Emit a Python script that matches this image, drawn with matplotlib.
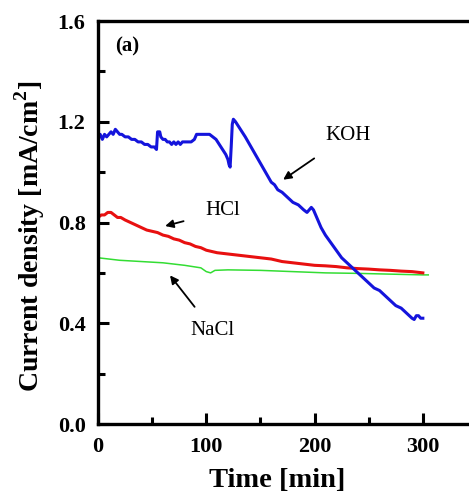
import numpy as np
import matplotlib.pyplot as plt
from matplotlib.ticker import MultipleLocator

plt.rcParams['font.family'] = 'Liberation Serif'
plt.rcParams['mathtext.fontset'] = 'custom'
plt.rcParams['mathtext.rm'] = 'Liberation Serif'
plt.rcParams['mathtext.bf'] = 'Liberation Serif:bold'

# KOH electrolyte
koh_t = [0, 2, 4, 6, 8, 10, 12, 14, 16, 18, 20, 22, 25, 28, 31, 34, 37, 40, 43, 46,
         49, 52, 54, 55, 57, 58, 60, 62, 64, 66, 68, 70, 72, 74, 76, 78, 80, 83, 86, 89,
         91, 94, 97, 100, 103, 106, 109, 112, 115, 118, 120, 121, 122, 123, 124, 125, 127,
         130, 133, 136, 140, 144, 148, 152, 156, 160, 163, 166, 170, 175, 180, 185, 190,
         193, 195, 197, 199, 202, 206, 210, 215, 220, 225, 230, 235, 240, 245, 250, 255,
         260, 265, 270, 275, 280, 285, 290, 292, 294, 296, 298, 300]
koh_j = [1.14, 1.15, 1.13, 1.15, 1.14, 1.15, 1.16, 1.15, 1.17, 1.16, 1.15, 1.15, 1.14,
         1.14, 1.13, 1.13, 1.12, 1.12, 1.11, 1.11, 1.10, 1.10, 1.09, 1.16, 1.16, 1.14,
         1.13, 1.13, 1.12, 1.12, 1.11, 1.12, 1.11, 1.12, 1.11, 1.12, 1.12, 1.12, 1.12,
         1.13, 1.15, 1.15, 1.15, 1.15, 1.15, 1.14, 1.13, 1.11, 1.09, 1.07, 1.05, 1.03,
         1.02, 1.10, 1.19, 1.21, 1.20, 1.18, 1.16, 1.14, 1.11, 1.08, 1.05, 1.02, 0.99,
         0.96, 0.95, 0.93, 0.92, 0.90, 0.88, 0.87, 0.85, 0.84, 0.85, 0.86, 0.85, 0.82,
         0.78, 0.75, 0.72, 0.69, 0.66, 0.64, 0.62, 0.60, 0.58, 0.56, 0.54, 0.53, 0.51,
         0.49, 0.47, 0.46, 0.44, 0.42, 0.415, 0.43, 0.43, 0.42, 0.42]

# HCl electrolyte
hcl_t = [0, 3, 6, 9, 12, 15, 18, 21, 25, 30, 35, 40, 45, 50, 55, 60, 65, 70, 75, 80,
         85, 90, 95, 100, 105, 110, 120, 130, 140, 150, 160, 170, 180, 190, 200, 210,
         220, 230, 240, 250, 260, 270, 280, 290, 300]
hcl_j = [0.82, 0.83, 0.83, 0.84, 0.84, 0.83, 0.82, 0.82, 0.81, 0.80, 0.79, 0.78, 0.77,
         0.765, 0.76, 0.75, 0.745, 0.735, 0.73, 0.72, 0.715, 0.705, 0.70, 0.69, 0.685,
         0.68, 0.675, 0.67, 0.665, 0.66, 0.655, 0.645, 0.64, 0.635, 0.63, 0.628, 0.625,
         0.62, 0.617, 0.615, 0.612, 0.61, 0.607, 0.605, 0.60]

# NaCl electrolyte
nacl_t = [0, 20, 40, 60, 80, 95, 100, 104, 108, 120, 150, 180, 210, 240, 270, 300, 305]
nacl_j = [0.66, 0.65, 0.645, 0.64, 0.63, 0.62, 0.605, 0.60, 0.61, 0.612, 0.61, 0.605,
          0.60, 0.598, 0.595, 0.592, 0.592]

fig = plt.figure(figsize=(4.69, 4.99), dpi=100)
ax = fig.add_axes([0.209, 0.1503, 0.808, 0.8076])

ax.plot(nacl_t, nacl_j, color='#33dd33', lw=1.1)
ax.plot(hcl_t, hcl_j, color='#e81010', lw=2.2)
ax.plot(koh_t, koh_j, color='#1414dc', lw=2.2)

ax.set_xlim(0, 350)
ax.set_ylim(0.0, 1.6)
ax.xaxis.set_major_locator(MultipleLocator(100))
ax.xaxis.set_minor_locator(MultipleLocator(50))
ax.yaxis.set_major_locator(MultipleLocator(0.4))
ax.yaxis.set_minor_locator(MultipleLocator(0.2))
ax.tick_params(which='both', direction='in', width=2.2, labelsize=16, pad=9)
ax.tick_params(which='major', length=8)
ax.tick_params(which='minor', length=5)
ax.set_yticks([0.0, 0.4, 0.8, 1.2, 1.6])
ax.set_yticklabels(['0.0', '0.4', '0.8', '1.2', '1.6'])
for lab in ax.get_xticklabels() + ax.get_yticklabels():
    lab.set_fontweight('bold')
for sp in ax.spines.values():
    sp.set_linewidth(2.4)

ax.set_xlabel('Time [min]', fontsize=20.5, fontweight='bold', labelpad=8, x=0.472)
ax.set_ylabel('Current density [mA/cm$^\\mathbf{2}$]', fontsize=20, fontweight='bold',
              labelpad=8, y=0.466)

ax.text(27, 1.50, '(a)', fontsize=15, fontweight='bold', ha='center', va='center')

arrow = dict(arrowstyle='-|>', color='black', lw=1.3, mutation_scale=12)
ax.annotate('KOH', xy=(171, 0.97), xytext=(231, 1.147), fontsize=15,
            ha='center', va='center', arrowprops=dict(arrow, shrinkA=14, shrinkB=0))
ax.annotate('HCl', xy=(62, 0.786), xytext=(115, 0.846), fontsize=15,
            ha='center', va='center', arrowprops=dict(arrow, shrinkA=14, shrinkB=0))
ax.annotate('NaCl', xy=(66.5, 0.59), xytext=(106, 0.373), fontsize=15,
            ha='center', va='center', arrowprops=dict(arrow, shrinkA=10, shrinkB=0))

fig.savefig('out.png', dpi=100)
